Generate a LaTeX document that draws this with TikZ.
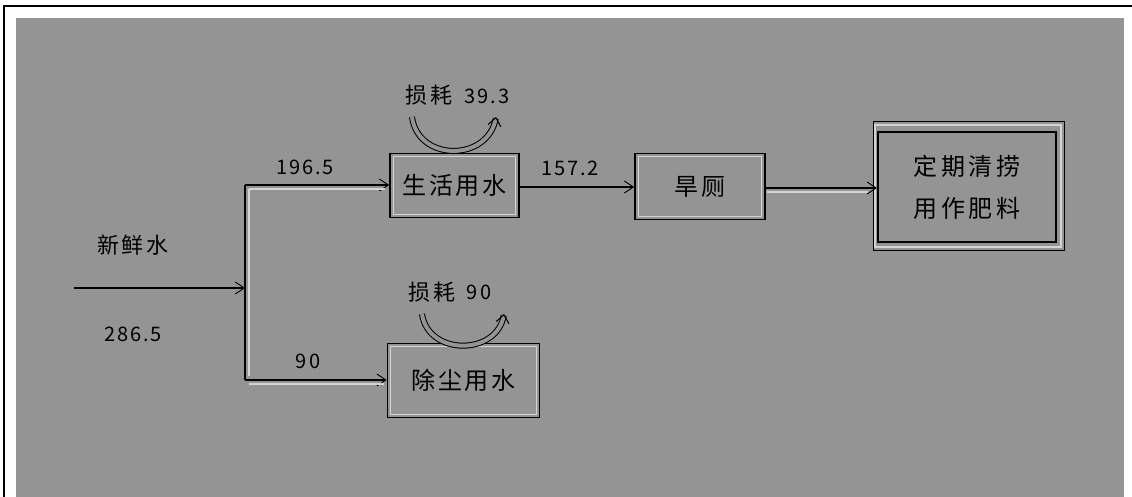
\documentclass[tikz,border=0pt]{standalone}
\usepackage{fontspec}
\setmainfont{Noto Sans CJK SC}
\usetikzlibrary{arrows.meta}
\definecolor{bggray}{HTML}{949494}
\definecolor{litegray}{HTML}{D4D4D4}
\tikzset{
  box/.style={draw=black, line width=1.6pt, fill=bggray, inner sep=0pt, font=\fontsize{24}{30}\selectfont\addfontfeature{LetterSpace=12}},
  innerline/.style={draw=litegray, line width=1.2pt},
  conn/.style={draw=black, line width=1.2pt, -{Straight Barb[length=9pt,width=12pt,line width=0.9pt]}},
  lossarc/.style={draw=black, line width=1pt, double=bggray, double distance=4pt, -{Straight Barb[length=8pt,width=13pt]}},
  num/.style={font=\fontsize{20}{24}\selectfont\addfontfeature{LetterSpace=10}, inner sep=1pt},
  cjk/.style={font=\fontsize{22}{26}\selectfont\addfontfeature{LetterSpace=10}, inner sep=1pt}
}
\begin{document}
\begin{tikzpicture}[x=1pt,y=-1pt]
\useasboundingbox (0,0) rectangle (1132,497);
\fill[white] (0,0) rectangle (1132,497);
\fill[bggray] (16,18) rectangle (1124,497);
\draw[black, line width=2pt] (4,497) -- (4,6) -- (1132,6);

% boxes
\node[box, minimum width=129pt, minimum height=64pt] (sh) at (454.5,185.5) {生活用水};
\draw[innerline] ([shift={(4pt,4pt)}]sh.south west) rectangle ([shift={(-4pt,-4pt)}]sh.north east);
\node[box, minimum width=130pt, minimum height=66pt] (hc) at (700,186.5) {旱厕};
\draw[innerline] ([shift={(4pt,4pt)}]hc.south west) rectangle ([shift={(-4pt,-4pt)}]hc.north east);
\node[box, minimum width=152pt, minimum height=74pt] (cc) at (463.5,380.5) {除尘用水};
\draw[innerline] ([shift={(4pt,4pt)}]cc.south west) rectangle ([shift={(-4pt,-4pt)}]cc.north east);
\draw[black, line width=1pt] (873,122) rectangle (1064,250);
\draw[litegray, line width=1.2pt] (875,125) rectangle (1061,247);
\node[box, line width=2.2pt, minimum width=178pt, minimum height=110pt, align=center,
      font=\fontsize{24}{42}\selectfont\addfontfeature{LetterSpace=16}] (fl) at (967,187) {定期清捞\\用作肥料};

% source
\node[cjk] (xs) at (133,245) {新鲜水};
\node[num] (n286) at (133,334) {286.5};
\coordinate (src) at (74,288);
\coordinate (split) at (245,288);
\coordinate (topc) at (245,185);
\coordinate (botc) at (245,380);

\draw[conn] (src) -- (split);
\draw[black, line width=1.6pt] (topc) -- (botc);
\draw[litegray, line width=1.2pt] (249,189) -- (249,376);
\draw[conn] (topc) -- (sh.west |- topc);
\draw[conn] (botc) -- (cc.west |- botc);
\draw[litegray, line width=1.2pt] (249,189) -- (385,189);
\draw[litegray, line width=1.2pt] (249,384) -- (384,384);

\node[num] (n196) at (305,167) {196.5};
\node[num] (n90) at (308,361) {90};

\draw[conn] (sh.east |- 0,187) -- (hc.west |- 0,187);
\node[num] (n157) at (570,168) {157.2};
\draw[conn] (hc.east |- 0,188) -- (fl.west |- 0,188);
\draw[litegray, line width=1.2pt] (767,192) -- (868,192);

% losses
\node[cjk] (ls1) at (429,95) {损耗};
\node[num] (n393) at (487,96) {39.3};
\coordinate (a1s) at (412,117);
\coordinate (a1e) at (496,117);
\draw[lossarc] (a1s) .. controls (418,162) and (488,162) .. (a1e);

\node[cjk] (ls2) at (432,292) {损耗};
\node[num] (n90b) at (479,292) {90};
\coordinate (a2s) at (422,314);
\coordinate (a2e) at (504,314);
\draw[lossarc] (a2s) .. controls (428,356) and (497,356) .. (a2e);
\end{tikzpicture}
\end{document}
